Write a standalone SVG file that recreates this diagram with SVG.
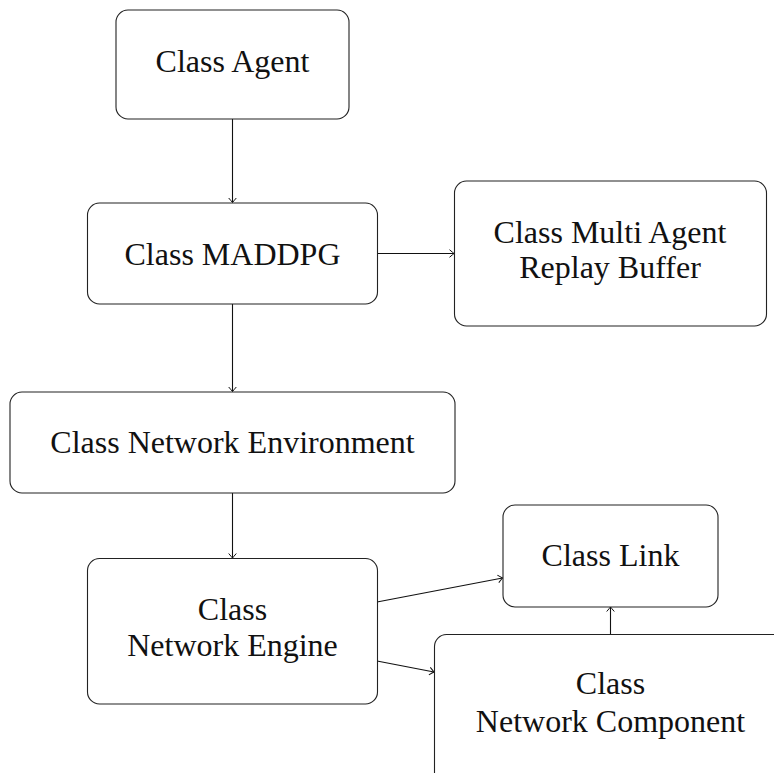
<svg xmlns="http://www.w3.org/2000/svg" width="774" height="773" viewBox="0 0 774 773">
<style>
.box{fill:#fff;stroke:#222;stroke-width:1.1}
.t{font-family:"Liberation Serif","DejaVu Serif",serif;font-size:32px;fill:#111;text-anchor:middle}
.c{fill:none;stroke:#111;stroke-width:1.1}
</style>
<defs>
<marker id="a" markerUnits="userSpaceOnUse" markerWidth="12" markerHeight="12" viewBox="-6 -6 12 12" refX="0" refY="0" orient="auto">
<path d="M-4.5,-3.8 Q-1.2,-1 0,0 Q-1.2,1 -4.5,3.8" fill="none" stroke="#111" stroke-width="1"/>
</marker>
</defs>
<rect width="774" height="773" fill="#fff"/>
<g id="connectors">
<line class="c" x1="232.5" y1="119" x2="232.5" y2="202.5" marker-end="url(#a)"/>
<line class="c" x1="377" y1="253.5" x2="454" y2="253.5" marker-end="url(#a)"/>
<line class="c" x1="232.5" y1="304" x2="232.5" y2="391.5" marker-end="url(#a)"/>
<line class="c" x1="232.5" y1="493" x2="232.5" y2="558" marker-end="url(#a)"/>
<line class="c" x1="377" y1="602" x2="502.5" y2="578" marker-end="url(#a)"/>
<line class="c" x1="377" y1="661" x2="434" y2="672" marker-end="url(#a)"/>
<line class="c" x1="610.5" y1="634" x2="610.5" y2="607" marker-end="url(#a)"/>
</g>
<g id="agent">
<rect class="box" x="116" y="10" width="233" height="109" rx="12"/>
<text class="t" x="232.5" y="72">Class Agent</text>
</g>
<g id="maddpg">
<rect class="box" x="87.5" y="203" width="290" height="101" rx="12"/>
<text class="t" x="232.5" y="265">Class MADDPG</text>
</g>
<g id="replay">
<rect class="box" x="454.5" y="181" width="312" height="145" rx="12"/>
<text class="t" x="610" y="243">Class Multi Agent</text>
<text class="t" x="610" y="278">Replay Buffer</text>
</g>
<g id="environment">
<rect class="box" x="10" y="392" width="445" height="101" rx="12"/>
<text class="t" x="232.5" y="453">Class Network Environment</text>
</g>
<g id="engine">
<rect class="box" x="87.5" y="558.5" width="290" height="145.5" rx="12"/>
<text class="t" x="232.5" y="620">Class</text>
<text class="t" x="232.5" y="656">Network Engine</text>
</g>
<g id="link">
<rect class="box" x="503" y="505" width="215" height="102" rx="12"/>
<text class="t" x="610.5" y="566">Class Link</text>
</g>
<g id="component">
<rect class="box" x="434.5" y="634.5" width="400" height="200" rx="12"/>
<text class="t" x="610.5" y="694">Class</text>
<text class="t" x="610.5" y="732">Network Component</text>
</g>
</svg>
